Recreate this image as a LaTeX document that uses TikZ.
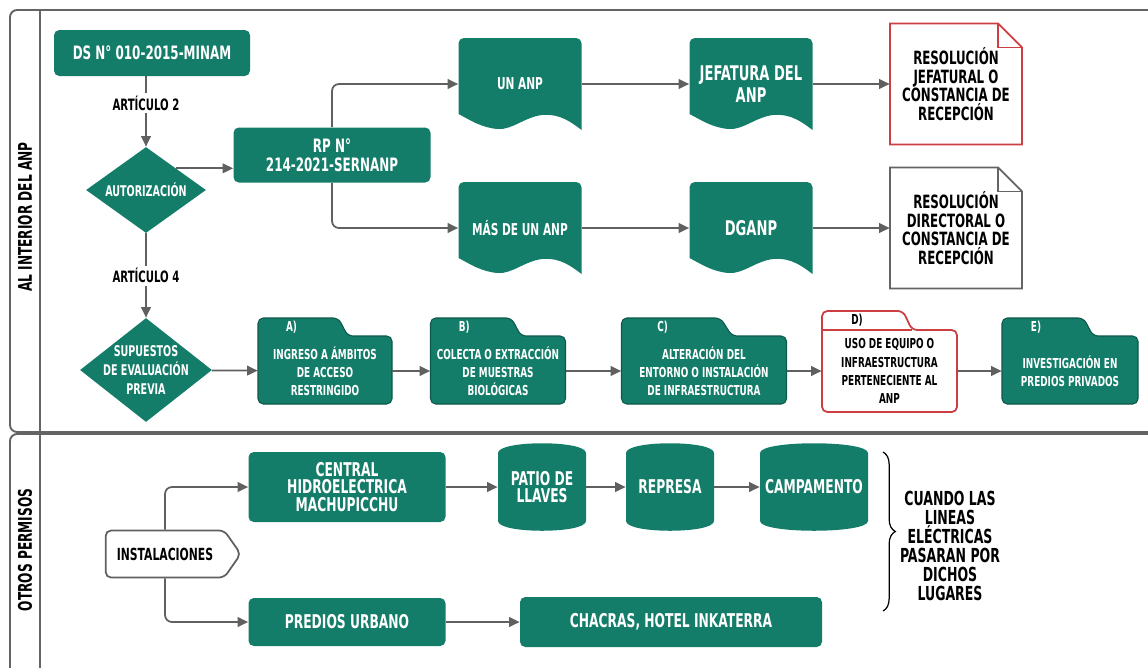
\documentclass[tikz,border=0pt]{standalone}
\usepackage{fontspec}
\setmainfont{DejaVu Sans Condensed}[FakeStretch=0.72]
\usepackage{tikz}
\usetikzlibrary{positioning,calc,arrows.meta}
\usetikzlibrary{shapes.geometric,shapes.symbols}
\usetikzlibrary{decorations.pathreplacing}
\definecolor{anpgreen}{RGB}{19,125,105}
\definecolor{linegray}{RGB}{96,96,96}
\definecolor{framegray}{RGB}{100,100,100}
\definecolor{notered}{RGB}{204,62,66}
\newlength{\unitpx}\setlength{\unitpx}{0.02cm}
\newcommand{\fsmall}{\fontsize{7.8}{10.3}\selectfont\bfseries}
\newcommand{\fdec}{\fontsize{8.4}{10.6}\selectfont\bfseries}
\newcommand{\fdoc}{\fontsize{9.3}{11}\selectfont\bfseries}
\newcommand{\fdocbig}{\fontsize{11.5}{12.5}\selectfont\bfseries}
\newcommand{\fbig}{\fontsize{10.5}{11}\selectfont\bfseries}
\newcommand{\fnote}{\fontsize{10.4}{10.6}\selectfont\bfseries}
\newcommand{\fmid}{\fontsize{10.8}{10}\selectfont\bfseries}
\newcommand{\flane}{\fontsize{10.7}{12}\selectfont\bfseries}
\newcommand{\fart}{\fontsize{8.9}{10}\selectfont\bfseries}
\tikzstyle{greenbox}=[rectangle,rounded corners=3pt,fill=anpgreen,text=white,align=center,inner sep=0pt]
\tikzstyle{decision}=[diamond,fill=anpgreen,inner sep=0pt]
\tikzstyle{textonly}=[rectangle,align=center,inner sep=0pt]
\tikzstyle{edge}=[draw,line width=1pt,linegray,-{Triangle[length=6pt,width=5.5pt]}]
\tikzstyle{artlabel}=[fill=white,text=black,inner sep=1.5pt,font=\fart]
\tikzset{sz/.style 2 args={minimum width=#1\unitpx,minimum height=#2\unitpx}}

\begin{document}
\begin{tikzpicture}[x=0.02cm,y=-0.02cm]
    \useasboundingbox (0,0) rectangle (1148,667);
    \clip (0,0) rectangle (1148,667);
    % Lanes
    \draw[framegray,line width=1.1pt,rounded corners=4pt] (10,10) rectangle (1175,432);
    \draw[framegray,line width=1.1pt,rounded corners=4pt] (10,434) rectangle (1175,700);
    \draw[framegray,line width=1.1pt] (40,10) -- (40,700);
    \node[rotate=90,font=\flane] (lanein) at (25,217) {AL INTERIOR DEL ANP};
    \node[rotate=90,font=\flane] (laneout) at (25,550) {OTROS PERMISOS};

    % First lane: norms and authorisation
    \node[greenbox,sz={196}{46},font=\fbig] (ds) at (152,53) {DS N° 010-2015-MINAM};
    \node[decision,sz={120}{86},label={[textonly,text=white,font=\fdec]center:AUTORIZACIÓN}] (aut) at (146,190) {};
    \node[greenbox,sz={197}{55},font=\fbig] (rp) at (332,155) {RP N°\\214-2021-SERNANP};
    \node[decision,sz={132}{104},label={[textonly,text=white,font=\fdec]center:{SUPUESTOS\\DE EVALUACIÓN\\PREVIA}}] (sup) at (146,370) {};

    % Document shapes
    \foreach \x/\y/\name/\fnt/\label in {520/84/un/\fdoc/{UN ANP}, 751/84/jef/\fdocbig/{JEFATURA DEL\\ANP},
    520/228/mas/\fdoc/{MÁS DE UN ANP}, 751/228/dganp/\fdocbig/{DGANP}}
    {
        \fill[anpgreen,rounded corners=3pt] (\x-61.5,\y+30) -- (\x-61.5,\y-46) -- (\x+61.5,\y-46) [sharp corners] -- (\x+61.5,\y+46)
            .. controls (\x+45,\y+33) and (\x+35,\y+30) .. (\x+22,\y+31)
            .. controls (\x+5,\y+33) and (\x-8,\y+46) .. (\x-22,\y+45)
            .. controls (\x-38,\y+44) and (\x-50,\y+36) .. (\x-61.5,\y+30) -- cycle;
        \node[textonly,text=white,sz={123}{92},font=\fnt] (\name) at (\x,\y) {\label};
    }

    % Resolutions (notes)
    \foreach \y/\name/\col/\label in {84/resj/notered/{RESOLUCIÓN\\JEFATURAL O\\CONSTANCIA DE\\RECEPCIÓN},
    228/resd/framegray/{RESOLUCIÓN\\DIRECTORAL O\\CONSTANCIA DE\\RECEPCIÓN}}
    {
        \draw[\col,line width=1pt,fill=white] (890,\y-60.5) -- (998,\y-60.5) -- (1022,\y-36.5) -- (1022,\y+60.5) -- (890,\y+60.5) -- cycle;
        \draw[\col,line width=1pt] (998,\y-60.5) -- (998,\y-36.5) -- (1022,\y-36.5);
        \node[textonly,sz={132}{121},font=\fnote] (\name) at (956,\y) {\label};
    }

    % Folders
    \foreach \x/\w/\name/\tag/\label in {325/134/fa/A)/{INGRESO A ÁMBITOS\\DE ACCESO\\RESTRINGIDO},
    498/135/fb/B)/{COLECTA O EXTRACCIÓN\\DE MUESTRAS\\BIOLÓGICAS}, 704/165/fc/C)/{ALTERACIÓN DEL\\ENTORNO O INSTALACIÓN\\DE INFRAESTRUCTURA},
    1070/136/fe/E)/{INVESTIGACIÓN EN\\PREDIOS PRIVADOS}}
    {
        \filldraw[fill=anpgreen,draw=anpgreen!70!black,line width=0.6pt,rounded corners=3pt] (\x-\w/2,404) -- (\x-\w/2,318) -- (\x+0.1*\w,318)
            -- (\x+0.17*\w,336) -- (\x+\w/2,336) -- (\x+\w/2,404) -- cycle;
        \node[textonly,text=white,font=\fsmall] (\name tag) at (\x-0.25*\w,327) {\tag};
        \node[textonly,text=white,sz={\w}{68},font=\fsmall] (\name) at (\x,371) {\label};
    }
    \filldraw[fill=white,draw=notered,line width=1pt,rounded corners=3pt] (822,412) -- (822,311) -- (903,311)
        -- (912,330) -- (957,330) -- (957,412) -- cycle;
    \draw[notered,line width=1pt] (822,330) -- (912,330);
    \node[textonly,font=\fsmall] (fdtag) at (857,320) {D)};
    \node[textonly,sz={135}{82},font=\fsmall] (fd) at (889.5,371) {USO DE EQUIPO O\\INFRAESTRUCTURA\\PERTENECIENTE AL\\ANP};

    % Connectors of first lane
    \path[edge] (ds.south -| aut.north) -- node[artlabel,pos=0.38] (art2) {ARTÍCULO 2} (aut.north);
    \path[edge] (aut.north east) -- (aut.north east -| rp.west);
    \path[edge,rounded corners=4pt] (rp.north) |- (un.west);
    \path[edge,rounded corners=4pt] (rp.south) |- (mas.west);
    \foreach \source/\dest in {un/jef, jef/resj, mas/dganp, dganp/resd, sup/fa, fa/fb, fb/fc, fc/fd, fd/fe}
        \path[edge] (\source) -- (\dest);
    \path[edge] (aut.south) -- node[artlabel] (art4) {ARTÍCULO 4} (sup.north);

    % Second lane
    \node[signal,signal to=east,signal pointer angle=110,draw=linegray,fill=white,line width=1pt,
        rounded corners=3pt,sz={135}{47},inner sep=0pt,font=\fontsize{9.5}{11}\selectfont\bfseries] (inst) at (165,554) {INSTALACIONES};
    \node[greenbox,sz={197}{70},font=\fmid] (central) at (347,487) {CENTRAL\\HIDROELECTRICA\\MACHUPICCHU};
    \node[greenbox,sz={197}{48},font=\fmid] (predios) at (347,622) {PREDIOS URBANO};
    \node[greenbox,sz={302}{50},font=\fmid] (chacras) at (671,622) {CHACRAS, HOTEL INKATERRA};
    \foreach \x/\w/\name/\label in {542/88/patio/{PATIO DE\\LLAVES}, 670/88/represa/REPRESA, 814/108/camp/CAMPAMENTO}
    {
        \fill[anpgreen] (\x-\w/2,521) -- (\x-\w/2,453) .. controls (\x-\w/2,440) and (\x+\w/2,440) .. (\x+\w/2,453)
            -- (\x+\w/2,521) .. controls (\x+\w/2,534) and (\x-\w/2,534) .. (\x-\w/2,521) -- cycle;
        \node[textonly,text=white,sz={\w}{88},font=\fmid] (\name) at (\x,487) {\label};
    }
    \path[edge,rounded corners=4pt] (inst.north) |- (central.west);
    \path[edge,rounded corners=4pt] (inst.south) |- (predios.west);
    \foreach \source/\dest in {central/patio, patio/represa, represa/camp, predios/chacras}
        \path[edge] (\source) -- (\dest);

    % Brace and note
    \coordinate (bt) at (883,452);
    \coordinate (bb) at (883,611);
    \draw[black,line width=0.7pt,decorate,decoration={brace,amplitude=7pt}] (bt) -- (bb);
    \node[textonly,font=\fontsize{11}{10.8}\selectfont\bfseries] (cuando) at (950,546) {CUANDO LAS\\LINEAS\\ELÉCTRICAS\\PASARAN POR\\DICHOS\\LUGARES};
\end{tikzpicture}
\end{document}
